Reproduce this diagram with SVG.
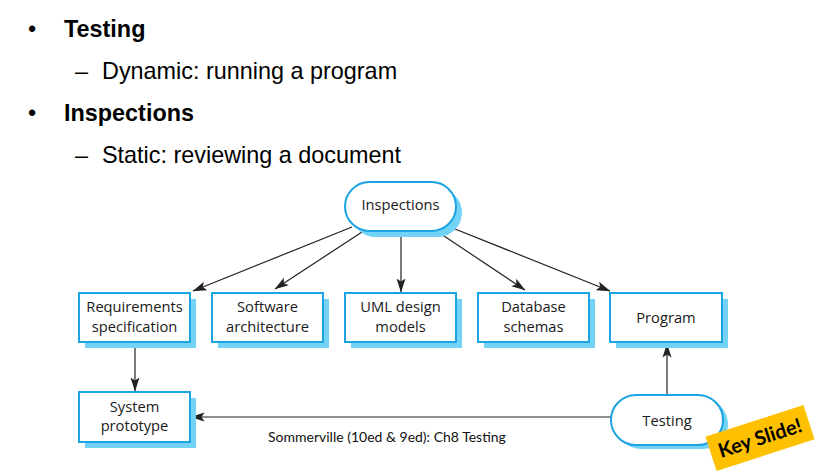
<svg xmlns="http://www.w3.org/2000/svg" width="818" height="475" viewBox="0 0 818 475">
<style>
.bul{font-family:"Liberation Sans",Arial,sans-serif;font-size:23.4px;fill:#000}
.b{font-weight:bold}
.box{fill:#fff;stroke:#1ba3e2;stroke-width:2}
.sh{fill:#72d3f6}
.lbl{font-family:"Open Sans","DejaVu Sans",sans-serif;font-size:14.7px;fill:#1a1a1a;text-anchor:middle}
.con{stroke:#222;stroke-width:1.2;fill:none;marker-end:url(#ah)}
.foot{font-family:Lato,"Liberation Sans",sans-serif;font-size:14px;fill:#111}
</style>
<defs>
<marker id="ah" viewBox="0 0 14 10" refX="13.5" refY="5" markerWidth="14" markerHeight="10" markerUnits="userSpaceOnUse" orient="auto">
<path d="M0,0.5 L14,5 L0,9.5 L3,5 Z" fill="#222"/>
</marker>
</defs>
<rect width="818" height="475" fill="#fff"/>
<g id="bullets">
<text class="bul" x="28" y="37">•</text>
<text class="bul b" x="64" y="37">Testing</text>
<text class="bul" x="75" y="79">–</text>
<text class="bul" x="102" y="79">Dynamic: running a program</text>
<text class="bul" x="28" y="121">•</text>
<text class="bul b" x="64" y="121">Inspections</text>
<text class="bul" x="75" y="163">–</text>
<text class="bul" x="102" y="163">Static: reviewing a document</text>
</g>
<g id="connectors">
<line class="con" x1="352" y1="227" x2="193" y2="291"/>
<line class="con" x1="362" y1="232" x2="275" y2="289"/>
<line class="con" x1="401" y1="233" x2="401" y2="292"/>
<line class="con" x1="438" y1="232" x2="525" y2="290"/>
<line class="con" x1="450" y1="227" x2="610" y2="291"/>
<line class="con" x1="135" y1="343" x2="135" y2="391"/>
<line class="con" x1="667" y1="395" x2="667" y2="344"/>
<line class="con" x1="611" y1="417" x2="191" y2="417"/>
</g>
<g id="inspections">
<rect class="sh" x="351" y="188" width="111" height="49" rx="24.5"/>
<rect class="box" x="345" y="182" width="111" height="49" rx="24.5"/>
<text class="lbl" x="400.5" y="210">Inspections</text>
</g>
<g id="requirements">
<rect class="sh" x="85" y="299" width="111" height="49"/>
<rect class="box" x="79" y="293" width="111" height="49"/>
<text class="lbl" x="134.5" y="312">Requirements</text>
<text class="lbl" x="134.5" y="332">specification</text>
</g>
<g id="software">
<rect class="sh" x="218" y="299" width="111" height="49"/>
<rect class="box" x="212" y="293" width="111" height="49"/>
<text class="lbl" x="267.5" y="312">Software</text>
<text class="lbl" x="267.5" y="332">architecture</text>
</g>
<g id="uml">
<rect class="sh" x="351" y="299" width="111" height="49"/>
<rect class="box" x="345" y="293" width="111" height="49"/>
<text class="lbl" x="400.5" y="312">UML design</text>
<text class="lbl" x="400.5" y="332">models</text>
</g>
<g id="database">
<rect class="sh" x="484" y="299" width="111" height="49"/>
<rect class="box" x="478" y="293" width="111" height="49"/>
<text class="lbl" x="533.5" y="312">Database</text>
<text class="lbl" x="533.5" y="332">schemas</text>
</g>
<g id="program">
<rect class="sh" x="616" y="299" width="112" height="49"/>
<rect class="box" x="610" y="293" width="112" height="49"/>
<text class="lbl" x="666" y="323">Program</text>
</g>
<g id="prototype">
<rect class="sh" x="85" y="398" width="111" height="50"/>
<rect class="box" x="79" y="392" width="111" height="50"/>
<text class="lbl" x="134.5" y="412">System</text>
<text class="lbl" x="134.5" y="431">prototype</text>
</g>
<g id="testing">
<rect class="sh" x="616" y="399" width="112" height="50" rx="25"/>
<rect class="box" x="611" y="395" width="112" height="50" rx="25"/>
<text class="lbl" x="667" y="426">Testing</text>
</g>
<text class="foot" x="268" y="442">Sommerville (10ed &amp; 9ed): Ch8 Testing</text>
<g id="keyslide" transform="translate(760 438) rotate(-18)">
<rect x="-51.5" y="-18" width="103" height="36" fill="#ffc000"/>
<text x="0" y="7" font-family="Lato,'Open Sans',sans-serif" font-weight="bold" font-size="20" text-anchor="middle" fill="#000">Key Slide!</text>
</g>
</svg>
